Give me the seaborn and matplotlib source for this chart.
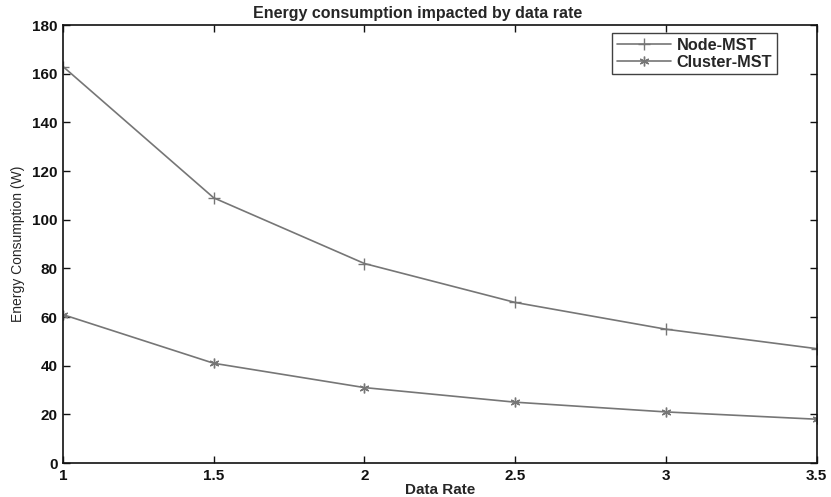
import numpy as np
import pandas as pd
import matplotlib
matplotlib.use('Agg')
import matplotlib.pyplot as plt
import seaborn as sns

# values
data_rate = [1, 1.5, 2, 2.5, 3, 3.5]
node_mst = [163, 109, 82, 66, 55, 47]
cluster_mst = [61, 41, 31, 25, 21, 18]
series_names = ['Node-MST', 'Cluster-MST']
x_labels = ['1', '1.5', '2', '2.5', '3', '3.5']

sns.set_style('ticks')
plt.rcParams['font.family'] = ['Liberation Sans', 'DejaVu Sans']

node_df = pd.DataFrame({'Data Rate': data_rate, 'Energy': node_mst})
cluster_df = pd.DataFrame({'Data Rate': data_rate, 'Energy': cluster_mst})

fig = plt.figure(figsize=(8.31, 4.97), dpi=100)
ax = fig.add_axes([0.0758, 0.0684, 0.907, 0.881])

line_color = '#767676'
sns.lineplot(data=node_df, x='Data Rate', y='Energy', label=series_names[0],
             color=line_color, marker='+', markersize=8, markeredgewidth=1.0,
             markeredgecolor=line_color, linewidth=1.2, ax=ax)
sns.lineplot(data=cluster_df, x='Data Rate', y='Energy', label=series_names[1],
             color=line_color, marker=(6, 2, 0), markersize=7, markeredgewidth=1.0,
             markeredgecolor=line_color, linewidth=1.2, ax=ax)

ax.set_xlim(1, 3.5)
ax.set_ylim(0, 180)
ax.set_xticks(data_rate)
ax.set_xticklabels(x_labels)
ax.set_yticks(np.arange(0, 181, 20))

# boxed MATLAB-like axes
for side in ['top', 'right', 'left', 'bottom']:
    ax.spines[side].set_visible(True)
    ax.spines[side].set_linewidth(1.2)
    ax.spines[side].set_color('#111111')

ax.tick_params(direction='in', top=True, right=True, length=5, width=1.0,
               labelsize=11, pad=4, colors='#111111')
for lbl in ax.get_xticklabels() + ax.get_yticklabels():
    lbl.set_fontweight('bold')

ax.set_xlabel('Data Rate', fontsize=11, fontweight='bold', labelpad=0)
ax.set_ylabel('Energy Consumption (W)', fontsize=10, labelpad=5)
ax.set_title('Energy consumption impacted by data rate', fontsize=11.5,
             fontweight='bold', pad=5, x=0.471)

handles, labels = ax.get_legend_handles_labels()
leg = ax.legend(handles, labels, loc='upper right', bbox_to_anchor=(0.947, 0.982),
                borderaxespad=0, prop={'size': 11.7, 'weight': 'bold'},
                frameon=True, fancybox=False, handlelength=3.3,
                borderpad=0.3, labelspacing=0.1, handletextpad=0.35)
leg.get_frame().set_edgecolor('#111111')
leg.get_frame().set_linewidth(1.0)

fig.savefig('out.png', dpi=100)
